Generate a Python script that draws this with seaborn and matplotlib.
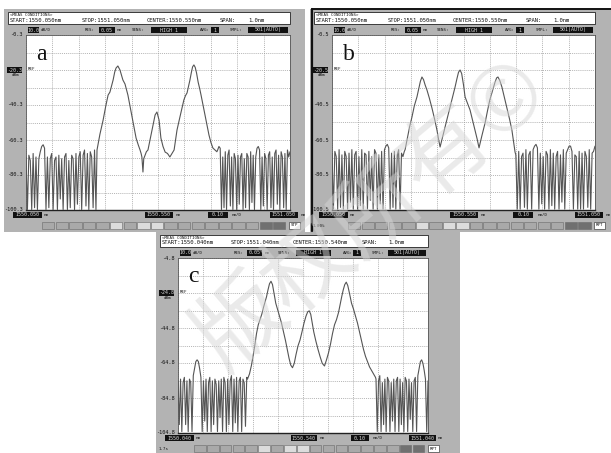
import numpy as np
import pandas as pd
import matplotlib.pyplot as plt
import matplotlib.patches as mpatches
import seaborn as sns

W_PX, H_PX = 611, 453
GREY = "#b3b3b3"
TRACE = "#555555"

# ---------------- panel a ----------------
a_start, a_stop, a_center = 1550.050, 1551.050, 1550.550
a_top = -0.3
a_labels = ["-0.3", "-20.3", "-40.3", "-60.3", "-80.3", "-100.3"]
a_noise_left_span = (1550.050, 1550.315)
a_noise_left = [-70, -100, -69, -72, -100, -68, -99, -70, -100, -71, -67, -64, -63, -65, -100,
                -70, -99, -71, -68, -100, -72, -70, -100, -69, -94, -71, -100, -70, -68, -100,
                -72, -99, -69, -71, -100, -68, -97, -70, -67, -100, -69, -66, -98, -68, -100,
                -67, -70, -99, -66, -100]
a_peak_wl = [1550.319, 1550.330, 1550.342, 1550.352, 1550.361, 1550.368, 1550.374, 1550.380,
             1550.386, 1550.391, 1550.398, 1550.406, 1550.412, 1550.417, 1550.425, 1550.436,
             1550.444, 1550.452, 1550.460, 1550.467, 1550.475, 1550.482, 1550.486, 1550.489,
             1550.493, 1550.496, 1550.500, 1550.506, 1550.512, 1550.520, 1550.527, 1550.533,
             1550.539, 1550.546, 1550.554, 1550.561, 1550.569, 1550.577, 1550.586, 1550.595,
             1550.603, 1550.611, 1550.617, 1550.622, 1550.628, 1550.633, 1550.641, 1550.648,
             1550.654, 1550.660, 1550.666, 1550.671, 1550.676, 1550.681, 1550.686, 1550.691,
             1550.696, 1550.702, 1550.708, 1550.713, 1550.720, 1550.728, 1550.736, 1550.743,
             1550.750, 1550.758, 1550.766, 1550.773]
a_peak_db = [-66, -57, -49, -41, -34.6, -32.9, -29.5, -26, -21.5, -19.2,
             -18, -20.3, -23.5, -26, -28.3, -34.6, -41, -47.2, -54, -59.2,
             -63, -66, -68, -70, -78.6, -71, -69.4, -67, -66, -60,
             -54.6, -50, -46, -44.3, -48.9, -59.2, -64, -67.2, -68, -70,
             -68, -66, -60, -54.6, -50.5, -47.2, -42, -37.4, -35, -33.4,
             -29.5, -26, -22, -18.5, -17.4, -18.8, -22, -27.2, -31, -34.6,
             -40, -46, -52, -57.4, -61.5, -64.9, -66, -67]
a_noise_right_span = (1550.776, 1551.050)
a_noise_right = [-66, -64, -65, -100, -70, -99, -67, -100, -69, -66, -98, -70, -100, -68, -71,
                 -100, -69, -97, -70, -68, -100, -71, -99, -68, -70, -100, -67, -96, -69, -100,
                 -70, -65, -64, -66, -100, -70, -98, -68, -71, -100, -69, -67, -99, -70, -100,
                 -68, -66, -97, -69, -100, -67, -70, -99, -68, -100, -66, -70, -67]

# ---------------- panel b ----------------
b_start, b_stop, b_center = 1550.050, 1551.050, 1550.550
b_top = -0.5
b_labels = ["-0.5", "-20.5", "-40.5", "-60.5", "-80.5", "-100.5"]
b_noise_left_span = (1550.050, 1550.325)
b_noise_left = [-68, -100, -67, -70, -100, -66, -99, -69, -100, -67, -70, -100, -68, -96, -66,
                -100, -69, -67, -100, -70, -98, -66, -100, -68, -69, -100, -67, -95, -70, -100,
                -66, -68, -100, -69, -97, -67, -100, -66, -64, -63, -65, -100, -68, -99, -67,
                -100, -69, -66, -100, -68, -70, -67]
b_peak_wl = [1550.328, 1550.336, 1550.345, 1550.354, 1550.363, 1550.373, 1550.380, 1550.386,
             1550.392, 1550.398, 1550.404, 1550.411, 1550.420, 1550.430, 1550.440, 1550.449,
             1550.455, 1550.461, 1550.470, 1550.480, 1550.490, 1550.499, 1550.508, 1550.518,
             1550.525, 1550.531, 1550.537, 1550.543, 1550.550, 1550.556, 1550.565, 1550.575,
             1550.585, 1550.594, 1550.602, 1550.609, 1550.620, 1550.632, 1550.641, 1550.650,
             1550.660, 1550.670, 1550.676, 1550.681, 1550.688, 1550.696, 1550.705, 1550.715,
             1550.725, 1550.734, 1550.740, 1550.746]
b_peak_db = [-66, -60, -53, -47.4, -41, -35.9, -31, -27, -24.5, -26,
             -29, -31.9, -36.5, -42.2, -48.5, -54.8, -60, -64.5, -59, -53,
             -47, -41.6, -36, -30.2, -25.5, -21.8, -20.5, -22.5, -29, -35.9,
             -39.5, -43.4, -49.5, -54.8, -60, -65, -58, -50.8, -44, -37.6,
             -32.5, -27.4, -25, -24.5, -26.5, -30.2, -36, -42.2, -48.5, -54.8,
             -61, -67.4]
b_noise_right_span = (1550.749, 1551.050)
b_noise_right = [-69, -100, -67, -100, -70, -68, -99, -66, -100, -69, -67, -100, -66, -64, -63,
                 -65, -100, -68, -97, -70, -100, -67, -69, -100, -66, -98, -68, -100, -70, -67,
                 -100, -69, -96, -66, -100, -68, -66, -64, -64, -67, -100, -69, -70, -100, -67,
                 -100, -68, -100, -67, -70, -99, -66, -100, -68, -67, -64]

# ---------------- panel c ----------------
c_start, c_stop, c_center = 1550.040, 1551.040, 1550.540
c_top = -4.8
c_labels = ["-4.8", "-24.8", "-44.8", "-64.8", "-84.8", "-104.8"]
c_noise_left_span = (1550.040, 1550.315)
c_noise_left = [-75, -100, -74, -104, -76, -73, -100, -75, -104, -74, -76, -104, -72, -68, -64,
                -63, -64, -68, -73, -104, -75, -98, -74, -104, -76, -73, -104, -75, -100, -74,
                -77, -104, -75, -96, -74, -104, -73, -76, -104, -74, -100, -75, -72, -104, -74,
                -99, -73, -104, -75, -73, -104, -74, -76, -101, -73]
c_peak_wl = [1550.318, 1550.326, 1550.334, 1550.340, 1550.347, 1550.354, 1550.361, 1550.368,
             1550.375, 1550.382, 1550.388, 1550.394, 1550.400, 1550.406, 1550.412, 1550.418,
             1550.424, 1550.431, 1550.438, 1550.446, 1550.454, 1550.462, 1550.470, 1550.477,
             1550.484, 1550.491, 1550.498, 1550.505, 1550.512, 1550.520, 1550.528, 1550.536,
             1550.544, 1550.552, 1550.559, 1550.565, 1550.571, 1550.577, 1550.583, 1550.591,
             1550.600, 1550.608, 1550.617, 1550.626, 1550.634, 1550.642, 1550.650, 1550.658,
             1550.666, 1550.674, 1550.682, 1550.689, 1550.695, 1550.701, 1550.707, 1550.713,
             1550.719, 1550.726, 1550.734, 1550.742, 1550.750, 1550.758, 1550.766, 1550.774,
             1550.782, 1550.790, 1550.798, 1550.806, 1550.814, 1550.822, 1550.830]
c_peak_db = [-74, -71, -66, -61, -55, -48, -43, -40, -37, -33,
             -30, -27, -23, -19.5, -18.1, -20, -25, -30.6, -34, -38,
             -42, -47, -52, -57, -62, -66, -67.5, -65, -60, -55,
             -51.7, -47, -42, -38, -35.5, -35, -37, -42, -47, -52,
             -57, -61, -65, -66.5, -63, -59, -54, -48, -43, -40,
             -36, -31, -26.8, -23, -20, -18.6, -20.5, -25, -30.6, -34,
             -38, -42, -47, -52, -57, -61, -64, -67, -69, -71, -73]
c_noise_right_span = (1550.832, 1551.040)
c_noise_right = [-74, -104, -75, -72, -104, -76, -100, -74, -104, -73, -75, -104, -76, -98, -74,
                 -104, -75, -73, -104, -74, -100, -76, -104, -73, -75, -104, -74, -97, -76, -104,
                 -75, -73, -104, -72, -68, -64, -63, -65, -69, -74, -104, -75]

sns.set_style("white")
plt.rcParams["font.family"] = ["DejaVu Sans"]


def px(x, y):
    return x / W_PX, 1 - y / H_PX


def rect(fig, x, y, w, h, z=1, **kw):
    fig.patches.append(mpatches.Rectangle(px(x, y + h), w / W_PX, h / H_PX,
                                          transform=fig.transFigure, zorder=z, **kw))


def txt(fig, x, y, s, size=4, color="#111111", ha="left", **kw):
    fig.text(*px(x, y), s, fontsize=size, color=color, ha=ha, va="center",
             family="DejaVu Sans Mono", zorder=5, **kw)


def box(fig, x0, x1, y, s, size=3.6):
    rect(fig, x0, y - 3, x1 - x0, 6, z=4, facecolor="#111111", edgecolor="none")
    txt(fig, (x0 + x1) / 2, y, s, size=size, color="#d8d8d8", ha="center")


def trace_frame(nl, nl_span, pk_wl, pk_db, nr, nr_span):
    wl = np.concatenate([np.linspace(nl_span[0], nl_span[1], len(nl)), pk_wl,
                         np.linspace(nr_span[0], nr_span[1], len(nr))])
    db = np.concatenate([nl, pk_db, nr])
    return pd.DataFrame({"wl": wl, "dbm": db})


def draw_panel(fig, L, T, W, right, letter, start, stop, center, top, labels, df, key, extra):
    H = 175
    rect(fig, L - 22, T - 26, W + 22 + right, 223, z=-2, facecolor=GREY, edgecolor="none")
    # header
    rect(fig, L - 18, T - 23, W + 18, 12, z=1, facecolor="white", edgecolor="#222222", lw=0.6)
    txt(fig, L - 16, T - 20, "<MEAS CONDITIONS>", size=3.0)
    txt(fig, L - 16, T - 15, "START:%.3fnm" % start, size=4.0)
    txt(fig, L + 0.212 * W, T - 15, "STOP:%.3fnm" % stop, size=4.0)
    txt(fig, L + 0.458 * W, T - 15, "CENTER:%.3fnm" % center, size=4.0)
    txt(fig, L + 0.735 * W, T - 15, "SPAN:", size=4.0)
    txt(fig, L + 0.841 * W, T - 15, "1.0nm", size=4.0)
    # setting row
    y = T - 5
    box(fig, L + 2, L + 13, y, "10.0")
    txt(fig, L + 15, y, "dB/D", size=3.0)
    txt(fig, L + 0.223 * W, y, "RES:", size=3.0)
    box(fig, L + 0.277 * W, L + 0.337 * W, y, "0.05")
    txt(fig, L + 0.345 * W, y, "nm", size=3.0)
    txt(fig, L + 0.40 * W, y, "SENS:", size=3.0)
    box(fig, L + 0.473 * W, L + 0.61 * W, y, "HIGH 1")
    txt(fig, L + 0.659 * W, y, "AVG:", size=3.0)
    box(fig, L + 0.70 * W, L + 0.731 * W, y, "1")
    txt(fig, L + 0.773 * W, y, "SMPL:", size=3.0)
    box(fig, L + 0.841 * W, L + 0.992 * W, y, "501(AUTO)")

    # level labels
    for i, lab in enumerate(labels):
        yy = T + (top - float(lab)) / 100 * H
        if i == 1:
            box(fig, L - 19, L - 4, yy, lab)
            txt(fig, L + 2, yy - 1, "REF", size=3)
            txt(fig, L - 14, yy + 5, "dBm", size=3)
        else:
            txt(fig, L - 3, yy, lab, size=3.8, ha="right")

    ax = fig.add_axes([L / W_PX, 1 - (T + H) / H_PX, W / W_PX, H / H_PX])
    ax.set_zorder(3)
    ax.set_facecolor("white")
    sns.lineplot(data=df, x="wl", y="dbm", sort=False, estimator=None,
                 color=TRACE, lw=0.8, ax=ax)
    ax.set_xlim(start, stop)
    ax.set_ylim(top - 100, top)
    ax.set_xticks(np.linspace(start, stop, 11))
    ax.set_yticks(np.linspace(top - 100, top, 11))
    ax.grid(True, ls=(0, (1.5, 1.5)), color="#9a9a9a", lw=0.5)
    ax.tick_params(length=0, labelbottom=False, labelleft=False)
    ax.set_xlabel("")
    ax.set_ylabel("")
    for sp in ax.spines.values():
        sp.set_color("#555555")
        sp.set_linewidth(0.6)
    ax.spines["bottom"].set_color("#222222")
    ax.spines["bottom"].set_linewidth(1.0)
    ax.text(0.04, 0.86, letter, transform=ax.transAxes, fontsize=17,
            family="Liberation Serif", color="#111111")

    # bottom row
    y = T + H + 5
    box(fig, L - 13, L + 16, y, "%.3f" % start)
    txt(fig, L + 18, y, "nm", size=3.0)
    box(fig, L + 0.45 * W, L + 0.557 * W, y, "%.3f" % center)
    txt(fig, L + 0.565 * W, y, "nm", size=3.0)
    box(fig, L + 0.69 * W, L + 0.765 * W, y, "0.10")
    txt(fig, L + 0.78 * W, y, "nm/D", size=3.0)
    box(fig, L + 0.924 * W, L + 1.03 * W, y, "%.3f" % stop)
    txt(fig, L + 1.04 * W, y, "nm", size=3.0)
    # soft keys
    step = (W - 3) / 19.2
    for k in range(18):
        fc = "#a9a9a9"
        if k in (5, 7, 8):
            fc = "#dcdcdc"
        elif k in (16, 17):
            fc = "#707070"
        rect(fig, L + 16 + k * step, T + H + 12, step - 1.2, 7, facecolor=fc,
             edgecolor="#6a6a6a", lw=0.4)
    kx = L + 16 + 18 * step + 2
    rect(fig, kx, T + H + 12, 11, 7, facecolor="white", edgecolor="#444444", lw=0.5)
    txt(fig, kx + 5.5, T + H + 15.5, key, size=3.0, ha="center")
    if extra:
        txt(fig, L - 19, T + H + 16, extra, size=3.0)


fig = plt.figure(figsize=(W_PX / 100, H_PX / 100), dpi=100)
fig.patch.set_facecolor("white")

df_a = trace_frame(a_noise_left, a_noise_left_span, a_peak_wl, a_peak_db,
                   a_noise_right, a_noise_right_span)
df_b = trace_frame(b_noise_left, b_noise_left_span, b_peak_wl, b_peak_db,
                   b_noise_right, b_noise_right_span)
df_c = trace_frame(c_noise_left, c_noise_left_span, c_peak_wl, c_peak_db,
                   c_noise_right, c_noise_right_span)

draw_panel(fig, 26, 35, 264, 15, "a", a_start, a_stop, a_center, a_top, a_labels, df_a, "STP", "")
draw_panel(fig, 332, 35, 263, 16, "b", b_start, b_stop, b_center, b_top, b_labels, df_b, "RPT", "1.00%")
draw_panel(fig, 178, 258, 250, 32, "c", c_start, c_stop, c_center, c_top, c_labels, df_c, "RPT", "1.7s")

# black frame of panel b
fig.add_artist(plt.Line2D([312 / W_PX, 312 / W_PX], [1 - 9 / H_PX, 1 - 231 / H_PX],
                          transform=fig.transFigure, color="#111111", lw=1.6, zorder=6))
fig.add_artist(plt.Line2D([312 / W_PX, 1.0], [1 - 9 / H_PX, 1 - 9 / H_PX],
                          transform=fig.transFigure, color="#111111", lw=1.4, zorder=6))

# watermark
fig.text(*px(372, 215), "版权所有©", fontsize=64, rotation=40, ha="center", va="center",
         color="#d6d6d6", alpha=0.5, family=["Noto Sans CJK SC", "DejaVu Sans"], zorder=10)

fig.savefig("out.png", dpi=100)
